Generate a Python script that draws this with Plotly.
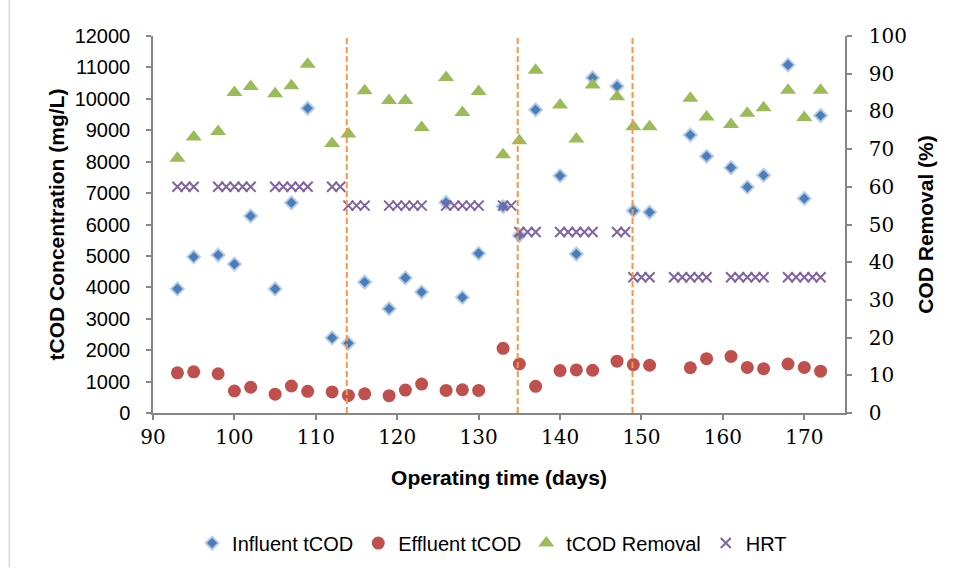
import plotly.graph_objects as go

# ---------------- data ----------------
days = [93, 95, 98, 100, 102, 105, 107, 109, 112, 114, 116, 119, 121, 123, 126, 128, 130,
        133, 135, 137, 140, 142, 144, 147, 149, 151, 156, 158, 161, 163, 165, 168, 170, 172]
influent_tcod = [3950, 4970, 5030, 4740, 6270, 3950, 6690, 9700, 2390, 2220, 4170, 3320, 4300,
                 3850, 6700, 3680, 5080, 6570, 5650, 9650, 7550, 5060, 10670, 10400, 6440, 6390,
                 8850, 8170, 7810, 7190, 7570, 11080, 6830, 9470]
effluent_tcod = [1280, 1310, 1250, 700, 820, 600, 860, 690, 670, 560, 610, 550, 730, 920, 720,
                 740, 720, 2060, 1560, 850, 1350, 1370, 1360, 1650, 1540, 1520, 1440, 1730, 1800,
                 1450, 1410, 1560, 1450, 1330]
tcod_removal = [67.6, 73.2, 74.7, 85.0, 86.6, 84.7, 86.8, 92.5, 71.5, 74.0, 85.5, 82.9, 82.9,
                75.7, 89.0, 79.7, 85.3, 68.5, 72.2, 90.9, 81.7, 72.7, 87.0, 83.9, 75.9, 75.9,
                83.5, 78.5, 76.5, 79.5, 81.0, 85.6, 78.4, 85.6]

hrt_days = [93, 94, 95, 98, 99, 100, 101, 102, 105, 106, 107, 108, 109, 112, 113,
            114, 115, 116, 119, 120, 121, 122, 123, 126, 127, 128, 129, 130, 133, 134,
            135, 136, 137, 140, 141, 142, 143, 144, 147, 148,
            149, 150, 151, 154, 155, 156, 157, 158, 161, 162, 163, 164, 165, 168, 169, 170, 171, 172]
hrt = [60] * 15 + [55] * 15 + [48] * 10 + [36] * 18

phase_changes = [113.8, 134.8, 148.9]

x_range = [90, 175]
y_left_range = [0, 12000]
y_right_range = [0, 100]

# ---------------- figure ----------------
AXIS_GRAY = "#868686"
SANS = "Liberation Sans, Arial, sans-serif"
SERIF = "DejaVu Serif, serif"

fig = go.Figure()
fig.add_trace(go.Scatter(
    x=days, y=influent_tcod, mode="markers", name="Influent tCOD",
    marker=dict(symbol="diamond", size=10, color="#4A7EBB",
                line=dict(color="rgba(185,205,229,0.9)", width=2)),
    yaxis="y"))
fig.add_trace(go.Scatter(
    x=days, y=effluent_tcod, mode="markers", name="Effluent tCOD",
    marker=dict(symbol="circle", size=13, color="#C0504D", line=dict(width=0)),
    yaxis="y"))
fig.add_trace(go.Scatter(
    x=days, y=tcod_removal, mode="markers", name="tCOD Removal",
    marker=dict(symbol="triangle-up", size=14, color="#9BBB59", line=dict(width=0)),
    yaxis="y2"))
fig.add_trace(go.Scatter(
    x=hrt_days, y=hrt, mode="markers", name="HRT",
    marker=dict(symbol="x-thin", size=10, color="#8064A2",
                line=dict(color="#8064A2", width=2)),
    yaxis="y2"))

shapes = []
for d in phase_changes:
    shapes.append(dict(type="line", xref="x", yref="paper", x0=d, x1=d, y0=0, y1=1,
                       line=dict(color="#F79646", width=2, dash="6px,3px")))
# light chart-area border on the left
shapes.append(dict(type="line", xref="paper", yref="paper", x0=-0.2076, x1=-0.2076,
                   y0=-0.41, y1=1.1, line=dict(color="#D9D9D9", width=1.5)))

fig.update_layout(
    width=963, height=571,
    margin=dict(l=153, r=118, t=36, b=158, autoexpand=False),
    plot_bgcolor="white", paper_bgcolor="white",
    shapes=shapes,
    xaxis=dict(range=x_range, tick0=90, dtick=10, showgrid=False, zeroline=False,
               showline=True, linecolor=AXIS_GRAY, linewidth=1.5,
               ticks="outside", ticklen=5, tickcolor=AXIS_GRAY, tickwidth=1.5,
               tickfont=dict(family=SERIF, size=20, color="black"),
               title=dict(text="Operating time (days)", standoff=23,
                          font=dict(family=SANS, size=21, color="black", weight="bold"))),
    yaxis=dict(range=y_left_range, dtick=1000, tickformat="d", showgrid=False, zeroline=False,
               showline=True, linecolor=AXIS_GRAY, linewidth=1.5,
               ticks="outside", ticklen=5, tickcolor=AXIS_GRAY, tickwidth=1.5,
               ticklabelstandoff=12,
               tickfont=dict(family=SANS, size=20, color="black"),
               title=dict(text="tCOD Concentration (mg/L)", standoff=4,
                          font=dict(family=SANS, size=21, color="black", weight="bold"))),
    yaxis2=dict(range=y_right_range, dtick=10, overlaying="y", side="right",
                showgrid=False, zeroline=False,
                showline=True, linecolor=AXIS_GRAY, linewidth=1.5,
                ticks="outside", ticklen=5, tickcolor=AXIS_GRAY, tickwidth=1.5,
                ticklabelstandoff=13,
                tickfont=dict(family=SERIF, size=20, color="black"),
                title=dict(text="COD Removal (%)", standoff=12,
                           font=dict(family=SANS, size=21, color="black", weight="bold"))),
    legend=dict(orientation="h", x=0.49, xanchor="center", y=-0.345, yanchor="middle",
                font=dict(family=SANS, size=20, color="black"), itemwidth=30,
                bgcolor="rgba(0,0,0,0)"),
)

fig.write_html("out.html", config={"displayModeBar": False},
               post_script="document.body.style.margin='0';")
